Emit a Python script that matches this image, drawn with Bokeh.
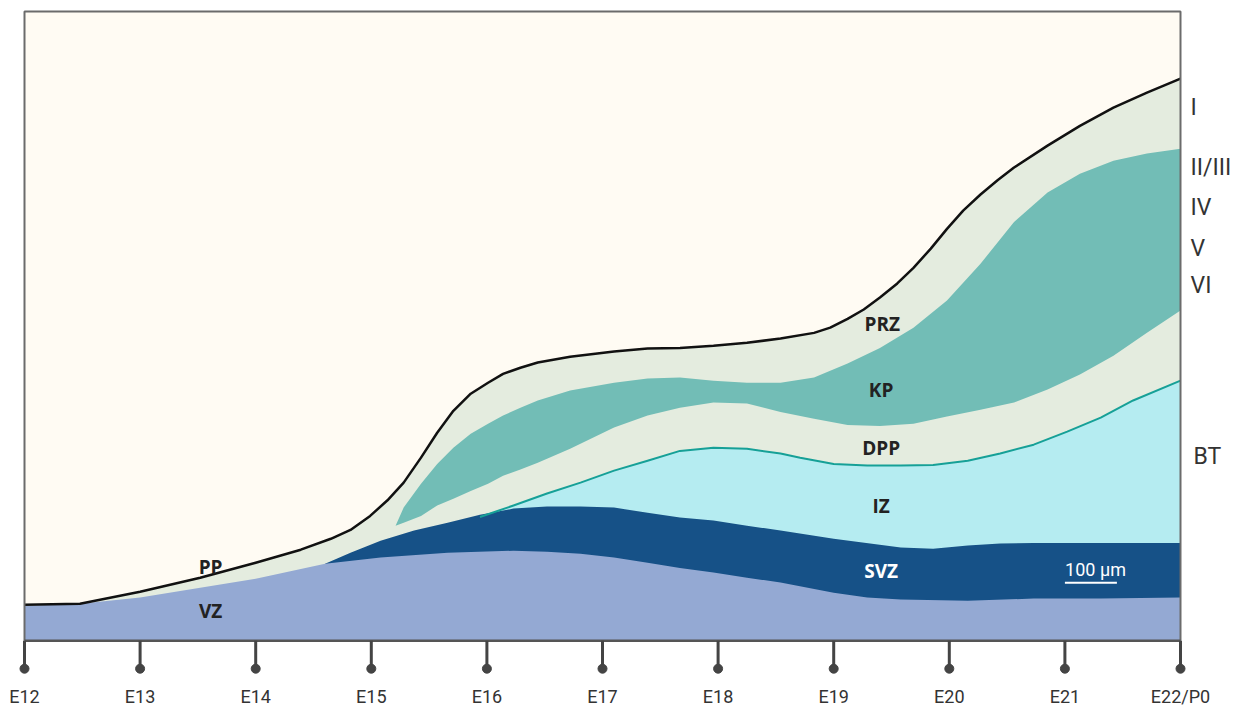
from bokeh.plotting import figure
from bokeh.models import FixedTicker, Range1d
from bokeh.core.properties import value
from bokeh.embed import file_html
from bokeh.resources import INLINE

# ---------------- data (x: embryonic day, y: thickness in µm) ----------------
days = [12, 13, 14, 15, 16, 17, 18, 19, 20, 21, 22]
day_labels = ["E12", "E13", "E14", "E15", "E16", "E17", "E18", "E19", "E20", "E21", "E22/P0"]

# pial surface (black line)
surface_x = [12.00, 12.48, 13.00, 13.52, 14.00, 14.39, 14.65, 14.82, 14.99, 15.14, 15.28,
             15.43, 15.57, 15.71, 15.86, 16.01, 16.14, 16.29, 16.44, 16.72, 17.10, 17.39,
             17.67, 17.96, 18.25, 18.54, 18.83, 18.97, 19.12, 19.26, 19.40, 19.55, 19.69,
             19.84, 19.98, 20.12, 20.27, 20.42, 20.56, 20.85, 21.13, 21.42, 21.71, 22.00]
surface_um = [69, 71, 94, 121, 150, 175, 196, 213, 240, 270, 304,
              352, 400, 442, 475, 496, 513, 525, 535, 546, 556, 562,
              563, 567, 573, 581, 592, 602, 619, 637, 660, 687, 717,
              754, 792, 827, 858, 886, 910, 952, 990, 1025, 1054, 1081]

# ventricular zone top
vz_x = [12.00, 12.48, 13.00, 13.52, 14.00, 14.39, 14.60, 15.08, 15.66, 16.23, 16.52, 16.81,
        17.10, 17.39, 17.67, 17.96, 18.25, 18.54, 19.00, 19.29, 19.58, 20.16, 20.73, 21.31, 22.00]
vz_top_um = [67, 71, 83, 102, 119, 138, 148, 160, 169, 173, 171, 167,
             160, 150, 140, 131, 121, 112, 92, 83, 79, 77, 81, 81, 83]

# subventricular zone top
svz_x = [14.60, 14.82, 15.08, 15.37, 15.66, 15.94, 16.23, 16.52, 16.81, 17.10, 17.39, 17.67,
         17.96, 18.25, 18.54, 19.00, 19.58, 19.86, 20.16, 20.44, 20.73, 21.31, 22.00]
svz_top_um = [148, 169, 192, 212, 227, 242, 254, 258, 258, 256, 246, 237,
              231, 221, 212, 196, 179, 177, 183, 187, 188, 188, 188]

# intermediate zone top (teal line)
iz_x = [15.94, 16.23, 16.52, 16.81, 17.10, 17.39, 17.67, 17.96, 18.25, 18.54, 18.71, 19.00,
        19.29, 19.58, 19.86, 20.16, 20.44, 20.73, 21.02, 21.31, 21.59, 22.00]
iz_top_um = [238, 260, 283, 304, 327, 346, 365, 371, 369, 360, 352, 340,
             337, 337, 338, 346, 360, 377, 402, 429, 462, 500]

# cortical plate (KP)
kp_x = [15.21, 15.28, 15.43, 15.57, 15.71, 15.86, 16.01, 16.14, 16.29, 16.44, 16.72, 17.10,
        17.39, 17.67, 17.96, 18.25, 18.54, 18.83, 19.12, 19.40, 19.69, 19.98, 20.27, 20.56,
        20.85, 21.13, 21.42, 21.71, 22.00]
kp_top_um = [221, 256, 302, 340, 371, 398, 417, 433, 448, 462, 481, 496,
             504, 506, 500, 496, 496, 506, 533, 563, 602, 654, 725, 805,
             862, 898, 923, 937, 946]
kp_bottom_um = [221, 227, 240, 260, 273, 288, 302, 317, 329, 342, 369, 410,
                433, 448, 458, 456, 440, 427, 415, 413, 417, 431, 444, 458,
                483, 512, 548, 592, 635]

zone_names = ["PP", "VZ", "PRZ", "KP", "DPP", "IZ", "SVZ"]
zone_x = [13.61, 13.61, 19.42, 19.41, 19.41, 19.41, 19.41]
zone_y = [142, 58, 610, 483, 371, 260, 135]

layer_names = ["I", "II/III", "IV", "V", "VI", "BT"]
layer_y = [1025, 910, 833, 754, 683, 354]

TOP_UM = 1210          # top of the drawing box
SCALE_UM = 100         # scale bar

# ---------------- styling ----------------
CREAM = "#FFFBF3"
GREEN = "#E4ECDF"
TEAL = "#72BDB6"
CYAN = "#B5ECF1"
DARK = "#165187"
VZC = "#94A9D3"
TEAL_LINE = "#16A097"

PX_PER_DAY = 115.6
UM_PER_PX = 100 / 52
FRAME_W, FRAME_H = 1227, 667
x0 = days[0] - 16 / PX_PER_DAY
x1 = x0 + FRAME_W / PX_PER_DAY
y_top = TOP_UM + 3 * UM_PER_PX
y_bot = y_top - FRAME_H * UM_PER_PX

p = figure(frame_width=FRAME_W, frame_height=FRAME_H,
           x_range=Range1d(x0, x1), y_range=Range1d(y_bot, y_top),
           output_backend="svg", toolbar_location=None, y_axis_location=None,
           min_border=0, min_border_left=8, min_border_right=0, min_border_top=8,
           background_fill_color="white", border_fill_color="white",
           outline_line_color=None)
p.grid.visible = False

# layers (painter's order)
p.quad(left=[days[0]], right=[days[-1]], bottom=[0], top=[TOP_UM], color=CREAM, line_color=None)
p.varea(x=surface_x, y1=0, y2=surface_um, color=GREEN)
p.varea(x=kp_x, y1=kp_bottom_um, y2=kp_top_um, color=TEAL)
p.varea(x=iz_x, y1=0, y2=iz_top_um, color=CYAN)
p.varea(x=svz_x, y1=0, y2=svz_top_um, color=DARK)
p.varea(x=vz_x, y1=0, y2=vz_top_um, color=VZC)
p.line(iz_x, iz_top_um, color=TEAL_LINE, line_width=2, line_join="round")
p.line(surface_x, surface_um, color="#111111", line_width=2.5, line_join="round")

# box
p.line(x=[days[0], days[0], days[-1], days[-1]], y=[0, TOP_UM, TOP_UM, 0],
       color="#6B6B6B", line_width=2)
p.line(x=[days[0], days[-1]], y=[0, 0], color="#555555", line_width=2.5)

# ticks with dots
tick_len = 28 * UM_PER_PX
p.segment(x0=days, y0=[0] * len(days), x1=days, y1=[-tick_len] * len(days),
          color="#444444", line_width=3)
p.scatter(x=days, y=[-tick_len] * len(days), size=9, color="#444444")

# axis labels
ax = p.xaxis[0]
ax.ticker = FixedTicker(ticks=days)
ax.major_label_overrides = {d: lab for d, lab in zip(days, day_labels)}
ax.axis_line_color = None
ax.major_tick_line_color = None
ax.minor_tick_line_color = None
ax.major_tick_out = 0
ax.major_tick_in = 0
ax.major_label_standoff = 10
ax.major_label_text_font = "Roboto"
ax.major_label_text_font_size = "18px"
ax.major_label_text_color = "#333333"

# zone labels
colors = ["#222222"] * 6 + ["#FFFFFF"]
p.text(x=zone_x, y=zone_y, text=zone_names, text_color=colors,
       text_font=value("Open Sans"), text_font_style="bold", text_font_size="19px",
       text_align="center", text_baseline="middle")

# layer labels on the right
p.text(x=[days[-1] + 10 / PX_PER_DAY] * 5 + [days[-1] + 13 / PX_PER_DAY], y=layer_y,
       text=layer_names, text_color="#333333", text_font=value("Roboto"),
       text_font_size="23px", text_align="left", text_baseline="middle")

# scale bar
sb_x0 = 21.0
sb_len = SCALE_UM / UM_PER_PX / PX_PER_DAY
p.segment(x0=[sb_x0], y0=[58 * UM_PER_PX], x1=[sb_x0 + sb_len], y1=[58 * UM_PER_PX],
          color="white", line_width=2)
p.text(x=[sb_x0 + sb_len / 2 + 0.04], y=[71 * UM_PER_PX], text=["100 µm"], text_color="white",
       text_font=value("Roboto"), text_font_size="18px", text_align="center",
       text_baseline="middle")

open("out.html", "w").write(file_html(p, INLINE))
